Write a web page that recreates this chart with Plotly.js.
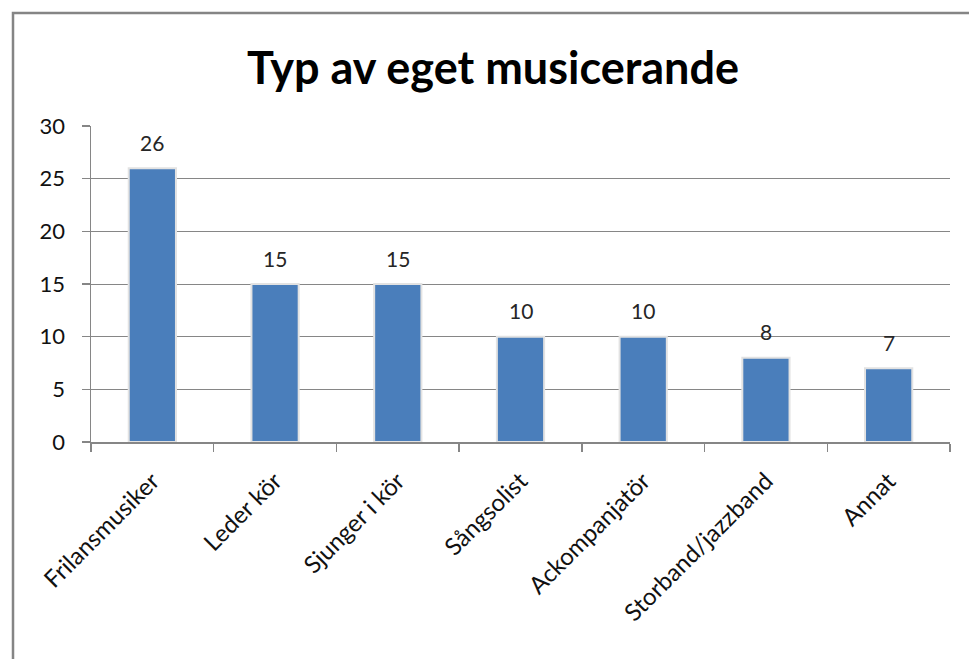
<!DOCTYPE html>
<html>
<head>
<meta charset="utf-8">
<script src="https://cdn.plot.ly/plotly-3.0.1.min.js"></script>
<style>
html,body{margin:0;padding:0;background:#fff;}
#chart{width:969px;height:659px;}
</style>
</head>
<body>
<div id="chart"></div>
<script>
const categories = ["Frilansmusiker", "Leder kör", "Sjunger i kör", "Sångsolist", "Ackompanjatör", "Storband/jazzband", "Annat"];
const values = [26, 15, 15, 10, 10, 8, 7];
const yTicks = [0, 5, 10, 15, 20, 25, 30];

const font = "Lato, 'Open Sans', sans-serif";

const trace = {
  type: "bar",
  x: categories,
  y: values,
  marker: {color: "#4A7EBB", line: {color: "#E2E2E2", width: 2}},
  hoverinfo: "x+y"
};

const labels = categories.map((c, i) => ({
  x: c, y: values[i], xref: "x", yref: "y",
  text: String(values[i]), showarrow: false,
  yanchor: "middle", yshift: 26,
  font: {family: font, size: 21, color: "#262626"}
}));

const L = 91, R = 950, T = 126, B = 442;
const pw = R - L, ph = B - T;

const layout = {
  width: 969, height: 659,
  margin: {l: L, r: 969 - R, t: T, b: 659 - B, pad: 0},
  paper_bgcolor: "#fff", plot_bgcolor: "#fff",
  showlegend: false,
  bargap: 0.615,
  title: {
    text: "<b>Typ av eget musicerande</b>",
    font: {family: font, size: 45, color: "#000"},
    x: 493/969, xref: "container", xanchor: "center",
    y: 1 - 68/659, yref: "container", yanchor: "middle"
  },
  xaxis: {
    type: "category",
    tickangle: -45,
    tickfont: {family: font, size: 24, color: "#111"},
    showline: true, linecolor: "#868686", linewidth: 1.5,
    ticks: "outside", tickson: "boundaries", ticklen: 8, tickcolor: "#868686", tickwidth: 1.5,
    ticklabelstandoff: 14,
    showgrid: false,
    fixedrange: true
  },
  yaxis: {
    range: [0, 30],
    tickvals: yTicks,
    ticktext: yTicks.map(String),
    tickfont: {family: font, size: 22, color: "#111"},
    showline: true, linecolor: "#868686", linewidth: 1.5,
    ticks: "outside", ticklen: 8, tickcolor: "#868686", tickwidth: 1.5,
    ticklabelstandoff: 12,
    showgrid: true, gridcolor: "#868686", gridwidth: 1,
    zeroline: false,
    fixedrange: true
  },
  annotations: labels,
  shapes: [{
    type: "rect", xref: "paper", yref: "paper",
    x0: (13 - L)/pw, x1: (990 - L)/pw,
    y0: (B - 700)/ph, y1: (B - 13)/ph,
    line: {color: "#858585", width: 2.5}, fillcolor: "rgba(0,0,0,0)", layer: "below"
  }]
};

Plotly.newPlot("chart", [trace], layout, {displayModeBar: false, staticPlot: true});
</script>
</body>
</html>
